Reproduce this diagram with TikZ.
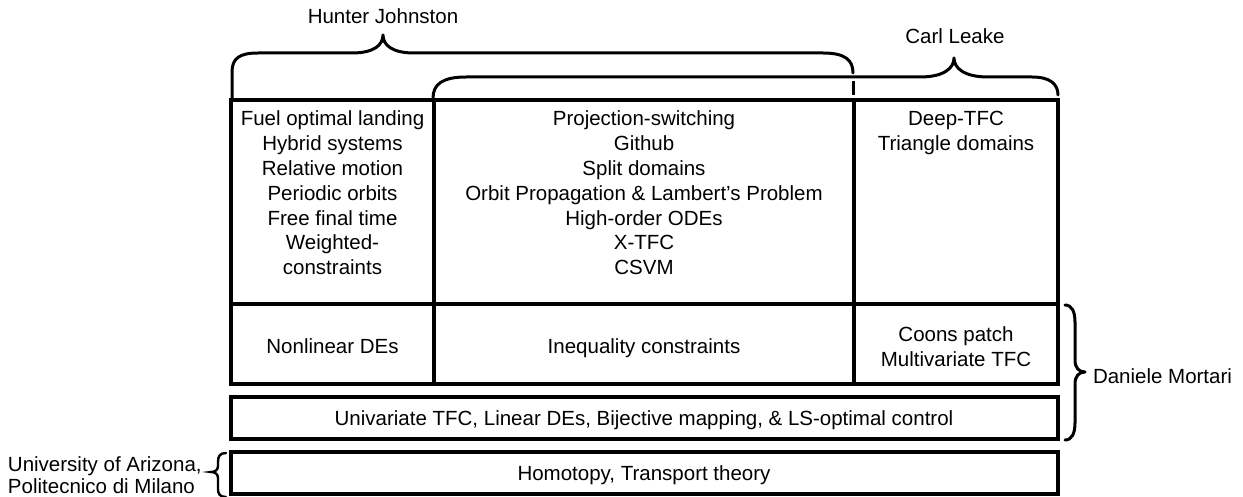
\documentclass[tikz,border=0pt]{standalone}
\usepackage{fontspec}
\setmainfont{Liberation Sans}
\begin{document}
\begin{tikzpicture}[x=1pt,y=-1pt,
  every node/.style={inner sep=0pt, outer sep=0pt},
  txt/.style={font=\fontsize{20.5}{24.8}\selectfont, align=center},
  cell/.style={draw, line width=3.3pt, anchor=north west},
  brace/.style={line width=3pt, line cap=round, line join=round}]
\useasboundingbox (0,0) rectangle (1243,497);

% --- grid of topic cells ---
\node[cell, minimum width=203pt, minimum height=204pt] (L)  at (231,100) {};
\node[cell, minimum width=420pt, minimum height=204pt] (M)  at (434,100) {};
\node[cell, minimum width=204pt, minimum height=204pt] (R)  at (854,100) {};
\node[cell, minimum width=203pt, minimum height=80pt]  (L2) at (231,304) {};
\node[cell, minimum width=420pt, minimum height=80pt]  (M2) at (434,304) {};
\node[cell, minimum width=204pt, minimum height=80pt]  (R2) at (854,304) {};
\node[cell, minimum width=827pt, minimum height=42pt]  (U)  at (231,397) {};
\node[cell, minimum width=827pt, minimum height=42pt]  (H)  at (231,452) {};

% --- cell contents ---
\node[txt, anchor=north] (tL) at (332.5,111) {Fuel optimal landing\\Hybrid systems\\Relative motion\\Periodic orbits\\Free final time\\Weighted-\\constraints};
\node[txt, anchor=north] (tM) at (644,111) {Projection-switching\\Github\\Split domains\\Orbit Propagation \& Lambert's Problem\\High-order ODEs\\X-TFC\\CSVM};
\node[txt, anchor=north] (tR) at (956,111) {Deep-TFC\\Triangle domains};
\node[txt, anchor=base] (tL2) at (332.5,353) {Nonlinear DEs};
\node[txt, anchor=base] (tM2) at (644,353) {Inequality constraints};
\node[txt, anchor=north] (tR2) at (956,326.5) {Coons patch\\Multivariate TFC};
\node[txt, anchor=base] (tU) at (644,425) {Univariate TFC, Linear DEs, Bijective mapping, \& LS-optimal control};
\node[txt, anchor=base] (tH) at (644,480) {Homotopy, Transport theory};

% --- people and institutions ---
\node[txt, anchor=base] (hj) at (383,24) {Hunter Johnston};
\node[txt, anchor=base] (cl) at (955,44) {Carl Leake};
\node[txt, anchor=base west] (dm) at (1093,383) {Daniele Mortari};
\node[font=\fontsize{20.5}{21.6}\selectfont, align=left, anchor=north west] (uni) at (8,457) {University of Arizona,\\Politecnico di Milano};

% Hunter Johnston: left and middle columns
\draw[brace] (232,98) -- (232,72) .. controls (232,58) and (240,53) .. (258,53)
  -- (352,53) .. controls (374,53) and (383,45) .. (383,35)
  .. controls (383,45) and (392,53) .. (414,53)
  -- (823,53) .. controls (845,53) and (853,60) .. (853,73);
\draw[line width=3pt] (853,81) -- (853,95);

% Carl Leake: middle and right columns
\draw[brace] (433,98) .. controls (433,84) and (443,77) .. (466,77)
  -- (920,77) .. controls (944,77) and (954,68) .. (954,58)
  .. controls (954,68) and (964,77) .. (988,77)
  -- (1032,77) .. controls (1050,77) and (1058,84) .. (1058,95);

% Daniele Mortari: lower two rows
\draw[brace] (1065,305) .. controls (1072,305) and (1075,312) .. (1075,322)
  -- (1075,360) .. controls (1075,368) and (1079,372) .. (1085,372)
  .. controls (1079,372) and (1075,376) .. (1075,384)
  -- (1075,423) .. controls (1075,433) and (1072,440) .. (1065,440);

% University of Arizona / Politecnico di Milano: bottom row
\draw[line width=2.4pt, line cap=round] (226,453) .. controls (220,453) and (218,456) .. (218,462)
  -- (218,466) .. controls (218,470) and (215,472) .. (211,472)
  .. controls (215,472) and (218,474) .. (218,478)
  -- (218,489) .. controls (218,494) and (220,497) .. (226,497);
\end{tikzpicture}
\end{document}
